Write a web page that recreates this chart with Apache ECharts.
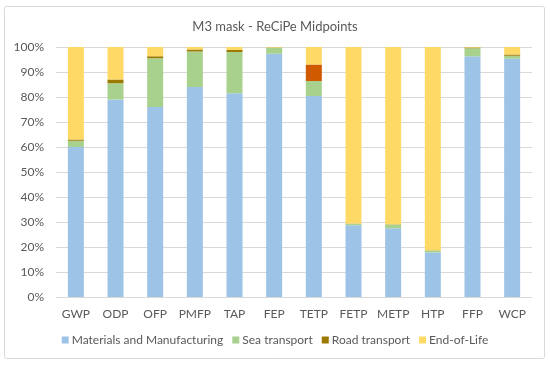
<!DOCTYPE html>
<html><head><meta charset="utf-8">
<script src="https://cdn.jsdelivr.net/npm/echarts@6/dist/echarts.min.js"></script>
<style>html,body{margin:0;padding:0;background:#fff}#c{width:550px;height:365px}</style>
</head><body><div id="c"></div>
<script>
const categories = ['GWP','ODP','OFP','PMFP','TAP','FEP','TETP','FETP','METP','HTP','FFP','WCP'];
const materials = [60, 79, 76, 84, 81.5, 97.3, 80.4, 28.7, 27.5, 17.8, 96.3, 95.3];
const seaTransport = [2.5, 6.5, 19.5, 14.2, 16.5, 2.4, 6, 0.6, 1.5, 0.8, 3.2, 1.2];
const roadTransport = [0.5, 1.5, 0.8, 0.8, 0.8, 0.1, 6.6, 0.1, 0.1, 0.1, 0.3, 0.5];
const endOfLife = [37, 13, 3.7, 1.0, 1.2, 0.2, 7, 70.6, 70.9, 81.3, 0.2, 3];
const yTicks = ['0%','10%','20%','30%','40%','50%','60%','70%','80%','90%','100%'];

const font = 'Lato, "Liberation Sans", sans-serif';
const chart = echarts.init(document.getElementById('c'));
const roadData = roadTransport.map((v, i) => categories[i] === 'TETP'
  ? { value: v, itemStyle: { color: '#D05A00' } } : v);
chart.setOption({
  animation: false,
  textStyle: { fontFamily: font },
  title: { text: 'M3 mask - ReCiPe Midpoints', left: 'center', top: 15,
    textStyle: { fontSize: 13, fontWeight: 'normal', color: '#595959', fontFamily: font } },
  graphic: [{ type: 'rect', shape: { x: 4.5, y: 6.5, width: 540, height: 352, r: 2 },
    style: { fill: 'none', stroke: '#d9d9d9', lineWidth: 1 }, silent: true }],
  grid: { left: 56, right: 18, top: 47, bottom: 68, containLabel: false },
  legend: { bottom: 14, itemWidth: 7, itemHeight: 7, itemGap: 9, icon: 'rect',
    textStyle: { fontSize: 12, color: '#595959', fontFamily: font, padding: [0, 0, 0, -2] },
    data: ['Materials and Manufacturing','Sea transport','Road transport','End-of-Life'] },
  xAxis: { type: 'category', data: categories,
    axisLine: { lineStyle: { color: '#d9d9d9' } }, axisTick: { show: false },
    axisLabel: { color: '#595959', fontSize: 12, margin: 11, interval: 0, fontFamily: font } },
  yAxis: { type: 'value', min: 0, max: 100, interval: 10,
    axisLine: { show: false }, axisTick: { show: false },
    splitLine: { lineStyle: { color: '#d9d9d9' } },
    axisLabel: { color: '#595959', fontSize: 12, margin: 12, fontFamily: font,
      formatter: v => yTicks[Math.round(v / 10)] } },
  series: [
    { name: 'Materials and Manufacturing', type: 'bar', stack: 's', barWidth: 16, data: materials, itemStyle: { color: '#9DC3E6' } },
    { name: 'Sea transport', type: 'bar', stack: 's', data: seaTransport, itemStyle: { color: '#A9D18E' } },
    { name: 'Road transport', type: 'bar', stack: 's', data: roadData, itemStyle: { color: '#9C7A00' } },
    { name: 'End-of-Life', type: 'bar', stack: 's', data: endOfLife, itemStyle: { color: '#FFD966' } }
  ]
});
</script></body></html>
